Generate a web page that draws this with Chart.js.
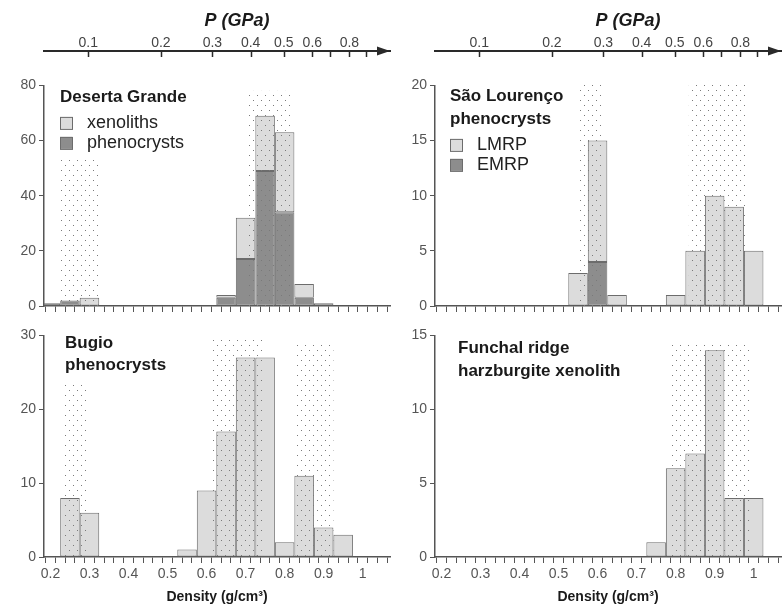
<!DOCTYPE html>
<html>
<head>
<meta charset="utf-8">
<script src="https://cdn.jsdelivr.net/npm/chart.js@4.4.1/dist/chart.umd.min.js"></script>
<style>
  html, body { margin: 0; padding: 0; background: #fff; }
  #wrap { position: relative; width: 783px; height: 606px; overflow: hidden; }
  canvas { position: absolute; }
</style>
</head>
<body>
<div id="wrap">
  <canvas id="pAxisL" width="392" height="60" style="left:0;top:0"></canvas>
  <canvas id="pAxisR" width="392" height="60" style="left:391px;top:0"></canvas>
  <canvas id="deserta" width="392" height="246" style="left:0;top:74px"></canvas>
  <canvas id="saoLourenco" width="392" height="246" style="left:391px;top:74px"></canvas>
  <canvas id="bugio" width="392" height="282" style="left:0;top:324px"></canvas>
  <canvas id="funchal" width="392" height="282" style="left:391px;top:324px"></canvas>
</div>
<script>
// histogram bins (density, g/cm3), bin width 0.05
const binCenters = [0.20, 0.25, 0.30, 0.35, 0.40, 0.45, 0.50, 0.55, 0.60, 0.65, 0.70, 0.75, 0.80, 0.85, 0.90, 0.95, 1.00];

const desertaPhenocrysts = [1, 2, 0, 0, 0, 0, 0, 0, 0, 3, 17, 49, 34, 3, 0, 0, 0];
const desertaXenoliths   = [0, 0, 3, 0, 0, 0, 0, 0, 0, 1, 15, 20, 29, 5, 1, 0, 0];
const saoLourencoEMRP    = [0, 0, 0, 0, 0, 0, 0, 0, 4, 0, 0, 0, 0, 0, 0, 0, 0];
const saoLourencoLMRP    = [0, 0, 0, 0, 0, 0, 0, 3, 11, 1, 0, 0, 1, 5, 10, 9, 5];
const bugioPhenocrysts   = [0, 8, 6, 0, 0, 0, 0, 1, 9, 17, 27, 27, 2, 11, 4, 3, 0];
const funchalXenolith    = [0, 0, 0, 0, 0, 0, 0, 0, 0, 0, 0, 1, 6, 7, 14, 4, 4];

// dotted ranges: [density from, density to, count reached]
const desertaRanges = [[0.226, 0.322, 54], [0.707, 0.821, 78]];
const saoLourencoRanges = [[0.550, 0.614, 20.3], [0.834, 0.985, 20.4]];
const bugioRanges = [[0.237, 0.294, 23.4], [0.611, 0.746, 29.6], [0.831, 0.925, 28.9]];
const funchalRanges = [[0.786, 0.995, 14.4]];

const densityTickLabels = ['0.2', '0.3', '0.4', '0.5', '0.6', '0.7', '0.8', '0.9', '1'];
// pressure axis (GPa) and where each tick falls on the density scale
const pressureTickLabels = ['0.1', '0.2', '0.3', '0.4', '0.5', '0.6', '', '0.8', ''];
const pressureTickDensity = [0.297, 0.483, 0.615, 0.713, 0.798, 0.871, 0.917, 0.966, 1.008];

const X_MIN = 0.1835, X_MAX = 1.07;
const LIGHT = '#dcdcdc', DARK = '#8d8d8d', EDGE = '#6c6c6c', AXIS = '#555';
const FONT = "'Liberation Sans', Arial, sans-serif";

Chart.defaults.font.family = FONT;
Chart.defaults.color = '#555';

function dotPattern(ctx) {
    const c = document.createElement('canvas');
    c.width = 8; c.height = 10;
    const g = c.getContext('2d');
    g.fillStyle = '#7a7a7a';
    g.fillRect(1, 1, 1, 1);
    g.fillRect(5, 6, 1, 1);
    return ctx.createPattern(c, 'repeat');
}

const shadePlugin = {
    id: 'shade',
    afterDatasetsDraw(chart, args, opts) {
        const { ctx, scales: { x, y } } = chart;
        ctx.save();
        ctx.fillStyle = dotPattern(ctx);
        (opts.ranges || []).forEach(([a, b, top]) => {
            const l = x.getPixelForValue(a), r = x.getPixelForValue(b);
            const t = y.getPixelForValue(top), bt = y.getPixelForValue(0);
            ctx.fillRect(l, t, r - l, bt - t);
        });
        ctx.restore();
    }
};

const panelTextPlugin = {
    id: 'panelText',
    afterDraw(chart, args, opts) {
        const { ctx, chartArea } = chart;
        const x0 = chartArea.left + opts.dx;
        const y0 = chartArea.top + opts.dy;
        ctx.save();
        ctx.textBaseline = 'middle';
        ctx.textAlign = 'left';
        ctx.fillStyle = '#1a1a1a';
        ctx.font = 'bold 17px ' + FONT;
        opts.lines.forEach((t, i) => ctx.fillText(t, x0, y0 + i * opts.lineH));
        if (opts.legend) {
            const items = chart.data.datasets.slice().reverse();
            const ly = y0 + (opts.lines.length - 1) * opts.lineH + 26;
            items.forEach((ds, i) => {
                const y = ly + i * 20;
                ctx.fillStyle = ds.backgroundColor;
                ctx.fillRect(x0, y - 6, 12, 12);
                ctx.strokeStyle = EDGE;
                ctx.lineWidth = 1;
                ctx.strokeRect(x0 + 0.5, y - 5.5, 12, 12);
                ctx.fillStyle = '#222';
                ctx.font = '18px ' + FONT;
                ctx.fillText(ds.label, x0 + 27, y);
            });
        }
        ctx.restore();
    }
};

function toPoints(arr) {
    return binCenters.map((x, i) => ({ x: x, y: arr[i] ? arr[i] : null }));
}

function makePanel(id, datasets, yMax, yStep, withLabels, text, ranges) {
    new Chart(document.getElementById(id), {
        type: 'bar',
        data: {
            datasets: datasets.map(d => ({
                label: d.label,
                data: toPoints(d.values),
                backgroundColor: d.color,
                borderColor: EDGE,
                borderWidth: 1,
                borderSkipped: false,
                // minor ticks sit every half bin, so the bar ruler sees half a bin
                barPercentage: 2,
                categoryPercentage: 1
            }))
        },
        options: {
            responsive: false,
            animation: false,
            events: [],
            layout: { padding: { top: 9, right: 2, left: 0, bottom: 0 } },
            plugins: {
                legend: { display: false },
                tooltip: { enabled: false },
                shade: { ranges: ranges },
                panelText: text
            },
            scales: {
                x: {
                    type: 'linear',
                    stacked: true,
                    min: X_MIN,
                    max: X_MAX,
                    offset: false,
                    afterBuildTicks: s => {
                        const t = [];
                        for (let k = 0; k <= 34; k++) t.push({ value: 0.2 + k * 0.025 });
                        s.ticks = t;
                    },
                    afterFit: s => { s.height = withLabels ? 49 : 14; },
                    grid: { drawOnChartArea: false, drawTicks: true, tickLength: 6, color: AXIS, lineWidth: 1 },
                    border: { display: true, color: AXIS, width: 1.5 },
                    ticks: {
                        display: withLabels,
                        autoSkip: false,
                        maxRotation: 0,
                        padding: 3,
                        color: '#555',
                        font: { size: 14 },
                        callback: v => {
                            const k = Math.round((v - 0.2) / 0.025);
                            return k % 4 === 0 ? densityTickLabels[k / 4] : '';
                        }
                    },
                    title: {
                        display: withLabels,
                        text: 'Density (g/cm³)',
                        color: '#1a1a1a',
                        font: { size: 14, weight: 'bold' },
                        padding: { top: 2, bottom: 0 }
                    }
                },
                y: {
                    stacked: true,
                    min: 0,
                    max: yMax,
                    afterFit: s => { s.width = 44; },
                    ticks: { stepSize: yStep, padding: 3, color: '#555', font: { size: 14 } },
                    grid: { drawOnChartArea: false, drawTicks: true, tickLength: 5, color: AXIS },
                    border: { display: true, color: AXIS, width: 1.5 }
                }
            }
        },
        plugins: [shadePlugin, panelTextPlugin]
    });
}

const pressureAxisPlugin = {
    id: 'pressureAxis',
    afterDraw(chart) {
        const { ctx, chartArea, scales: { x } } = chart;
        const yLine = chartArea.top;
        const r = chartArea.right;
        ctx.save();
        // tick marks hang below the axis line
        ctx.strokeStyle = '#2a2a2a';
        ctx.lineWidth = 1.5;
        x.ticks.forEach(t => {
            const px = Math.round(x.getPixelForValue(t.value)) + 0.5;
            ctx.beginPath();
            ctx.moveTo(px, yLine);
            ctx.lineTo(px, yLine + 6);
            ctx.stroke();
        });
        ctx.fillStyle = '#2a2a2a';
        ctx.beginPath();
        ctx.moveTo(r, yLine);
        ctx.lineTo(r - 13, yLine - 4.5);
        ctx.lineTo(r - 13, yLine + 4.5);
        ctx.closePath();
        ctx.fill();
        ctx.fillStyle = '#1a1a1a';
        ctx.font = 'italic bold 18px ' + FONT;
        ctx.textAlign = 'center';
        ctx.textBaseline = 'middle';
        ctx.fillText('P (GPa)', (chartArea.left + chartArea.right) / 2 + 20, 21);
        ctx.restore();
    }
};

function makePressureAxis(id) {
    new Chart(document.getElementById(id), {
        type: 'scatter',
        data: { datasets: [] },
        options: {
            responsive: false,
            animation: false,
            events: [],
            layout: { padding: { left: 44, right: 2, top: 0, bottom: 3 } },
            plugins: { legend: { display: false }, tooltip: { enabled: false } },
            scales: {
                x: {
                    type: 'linear',
                    position: 'top',
                    min: X_MIN,
                    max: X_MAX,
                    afterBuildTicks: s => { s.ticks = pressureTickDensity.map(v => ({ value: v })); },
                    afterFit: s => { s.height = 51; },
                    ticks: {
                        autoSkip: false,
                        maxRotation: 0,
                        padding: -1,
                        color: '#444',
                        font: { size: 14 },
                        callback: (v, i) => pressureTickLabels[i]
                    },
                    grid: { display: true, drawTicks: false, drawOnChartArea: false },
                    border: { display: true, color: '#2a2a2a', width: 2 }
                },
                y: { display: false, min: 0, max: 1 }
            }
        },
        plugins: [pressureAxisPlugin]
    });
}

document.addEventListener('DOMContentLoaded', function() {
    makePressureAxis('pAxisL');
    makePressureAxis('pAxisR');

    makePanel('deserta', [
        { label: 'phenocrysts', values: desertaPhenocrysts, color: DARK },
        { label: 'xenoliths', values: desertaXenoliths, color: LIGHT }
    ], 80, 20, false,
    { lines: ['Deserta Grande'], legend: true, dx: 16, dy: 11.5, lineH: 22.5 }, desertaRanges);

    makePanel('saoLourenco', [
        { label: 'EMRP', values: saoLourencoEMRP, color: DARK },
        { label: 'LMRP', values: saoLourencoLMRP, color: LIGHT }
    ], 20, 5, false,
    { lines: ['São Lourenço', 'phenocrysts'], legend: true, dx: 15, dy: 11, lineH: 22.5 }, saoLourencoRanges);

    makePanel('bugio', [
        { label: 'phenocrysts', values: bugioPhenocrysts, color: LIGHT }
    ], 30, 10, true,
    { lines: ['Bugio', 'phenocrysts'], legend: false, dx: 21, dy: 8, lineH: 21.5 }, bugioRanges);

    makePanel('funchal', [
        { label: 'xenolith', values: funchalXenolith, color: LIGHT }
    ], 15, 5, true,
    { lines: ['Funchal ridge', 'harzburgite xenolith'], legend: false, dx: 23, dy: 13, lineH: 22.5 }, funchalRanges);
});
</script>
</body>
</html>
